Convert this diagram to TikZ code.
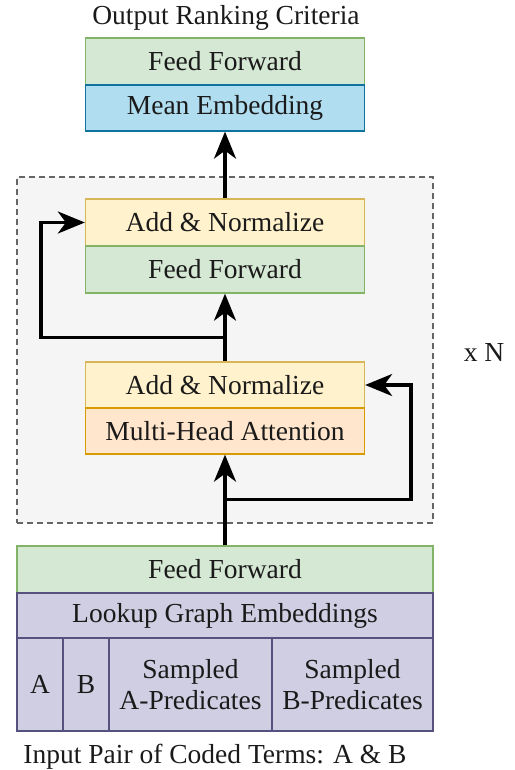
\documentclass[tikz,border=0pt]{standalone}
\usepackage{fontspec}
\setmainfont{Liberation Serif}
\usetikzlibrary{arrows.meta}
\definecolor{ffFill}{HTML}{D5E8D4}\definecolor{ffLine}{HTML}{82B366}
\definecolor{meFill}{HTML}{B1DDF0}\definecolor{meLine}{HTML}{10739E}
\definecolor{anFill}{HTML}{FFF2CC}\definecolor{anLine}{HTML}{D6B656}
\definecolor{mhFill}{HTML}{FFE6CC}\definecolor{mhLine}{HTML}{D79B00}
\definecolor{lgFill}{HTML}{D0CEE2}\definecolor{lgLine}{HTML}{56517E}
\definecolor{ctFill}{HTML}{F5F5F5}\definecolor{ctLine}{HTML}{666666}
\definecolor{txt}{HTML}{1A1A1A}
\begin{document}
\begin{tikzpicture}[x=1pt,y=-1pt,
  every node/.style={font=\fontsize{27.5}{31}\selectfont, text=txt},
  blk/.style={draw, line width=1.3pt, rectangle, inner sep=0pt, align=center},
  wide/.style={blk, minimum width=279pt},
  ffbox/.style={fill=ffFill, draw=ffLine},
  mebox/.style={fill=meFill, draw=meLine},
  anbox/.style={fill=anFill, draw=anLine},
  mhbox/.style={fill=mhFill, draw=mhLine},
  lgbox/.style={fill=lgFill, draw=lgLine},
  arr/.style={line width=3.3pt, -{Stealth[length=27pt,width=22pt,inset=8pt]}}
]
\useasboundingbox (0,0) rectangle (514,770);
% container
\node[draw=ctLine, fill=ctFill, dashed, line width=1.3pt, dash pattern=on 6pt off 4pt,
      minimum width=416pt, minimum height=346pt, inner sep=0pt] (cont) at (225,350) {};
% top
\node (title) at (226,18) {Output Ranking Criteria};
\node[wide, ffbox, minimum height=47pt] (tff) at (225,61.5) {Feed Forward};
\node[wide, mebox, minimum height=46pt] (me) at (225,108) {Mean Embedding};
% upper block
\node[wide, anbox, minimum height=47pt] (ua) at (225,222.5) {Add \& Normalize};
\node[wide, ffbox, minimum height=47pt] (uf) at (225,269.5) {Feed Forward};
% lower block
\node[wide, anbox, minimum height=46pt] (la) at (225,385) {Add \& Normalize};
\node[wide, mhbox, minimum height=46pt] (mh) at (225,431) {Multi-Head Attention};
% x N
\node (xn) at (484,352) {x N};
% bottom
\node[blk, ffbox, minimum width=416pt, minimum height=47pt] (bff) at (225,569.5) {Feed Forward};
\node[blk, lgbox, minimum width=416pt, minimum height=45pt] (lg) at (225,615.5) {Lookup Graph Embeddings};
\node[blk, lgbox, minimum width=46pt, minimum height=93pt] (ca) at (40,684.5) {A};
\node[blk, lgbox, minimum width=46pt, minimum height=93pt] (cb) at (86,684.5) {B};
\node[blk, lgbox, minimum width=163pt, minimum height=93pt] (csa) at (190.5,684.5) {Sampled\\A-Predicates};
\node[blk, lgbox, minimum width=161pt, minimum height=93pt] (csb) at (352.5,684.5) {Sampled\\B-Predicates};
\node (cap) at (215,757) {Input Pair of Coded Terms: A \& B};
% connectors
\draw[arr] (ua.north) -- (me.south);
\draw[arr] (la.north) -- (uf.south);
\path (la.north) ++(0,-24) coordinate (b1);
\draw[arr] (b1) -- ++(-184,0) |- (ua.west);
\draw[arr] (bff.north) -- (mh.south);
\path (bff.north) ++(0,-46) coordinate (b2);
\draw[arr] (b2) -- ++(186,0) |- (la.east);
\end{tikzpicture}
\end{document}
